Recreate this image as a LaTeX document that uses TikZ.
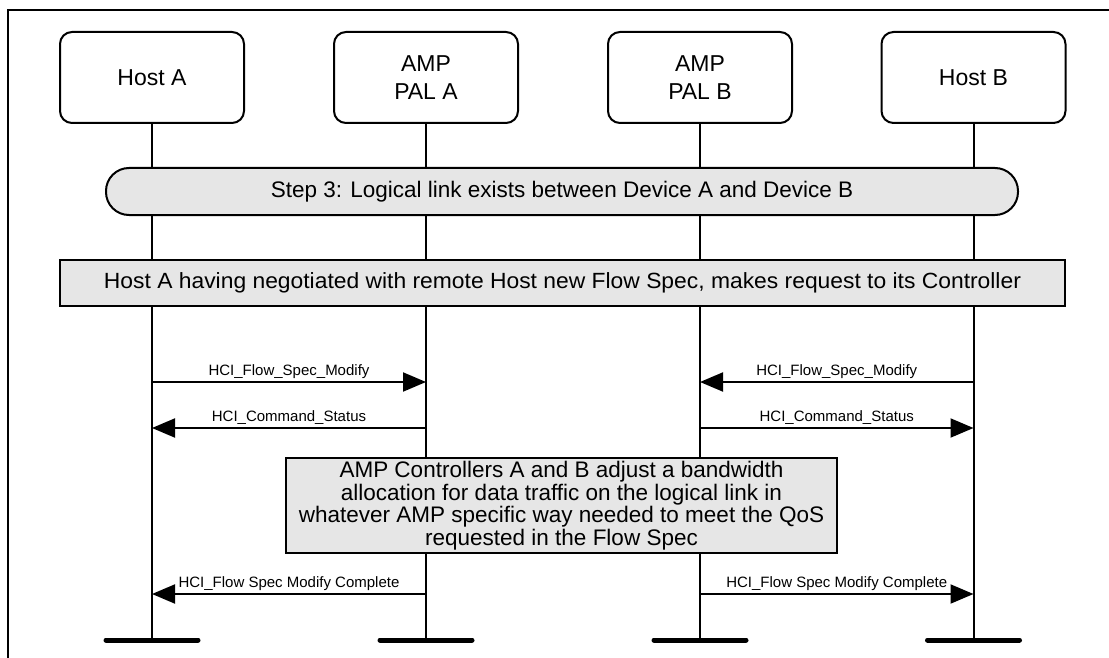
\documentclass[tikz,border=0pt]{standalone}
\usepackage{fontspec}
\setmainfont{Liberation Sans}
\usetikzlibrary{arrows.meta}
\definecolor{bannergray}{HTML}{E6E6E6}
\begin{document}
\begin{tikzpicture}[x=1pt,y=-1pt,
  actor/.style={draw,line width=2pt,rounded corners=12pt,minimum width=184pt,minimum height=91pt,
    align=center,inner sep=0pt,font=\fontsize{23}{28}\selectfont},
  lifeline/.style={line width=2pt},
  endbar/.style={line width=5pt,line cap=round},
  banner/.style={draw,line width=2pt,fill=bannergray,inner sep=0pt},
  msg/.style={line width=2pt,-{Triangle[length=23pt,width=19pt]}},
  msglabel/.style={anchor=base,inner sep=0pt,yshift=7pt,font=\fontsize{15}{18}\selectfont},
  frameline/.style={line width=2pt}]
\useasboundingbox (0,0) rectangle (1109,658);
% frame
\draw[frameline] (8,658) -- (8,10) -- (1109,10);
% actors
\node[actor] (hA) at (152,77.5) {Host A};
\node[actor] (pA) at (426,77.5) {AMP\\PAL A};
\node[actor] (pB) at (700,77.5) {AMP\\PAL B};
\node[actor] (hB) at (973.5,77.5) {Host B};
% lifeline ends
\coordinate (hAe) at (152,640);
\coordinate (pAe) at (426,640);
\coordinate (pBe) at (700,640);
\coordinate (hBe) at (973.5,640);
\draw[lifeline] (hA.south) -- (hAe);
\draw[lifeline] (pA.south) -- (pAe);
\draw[lifeline] (pB.south) -- (pBe);
\draw[lifeline] (hB.south) -- (hBe);
\draw[endbar] ([xshift=-46pt]hAe) -- ([xshift=46pt]hAe);
\draw[endbar] ([xshift=-46pt]pAe) -- ([xshift=46pt]pAe);
\draw[endbar] ([xshift=-46pt]pBe) -- ([xshift=46pt]pBe);
\draw[endbar] ([xshift=-46pt]hBe) -- ([xshift=46pt]hBe);
% banners
\node[banner,rounded corners=23pt,minimum width=912pt,minimum height=47pt,
  font=\fontsize{22.5}{27}\selectfont] (step) at (562,191.5)
  {Step 3: Logical link exists between Device A and Device B};
\node[banner,minimum width=1005pt,minimum height=46pt,
  font=\fontsize{22}{26}\selectfont] (nego) at (562.5,283)
  {\resizebox{917pt}{\height}{Host A having negotiated with remote Host new Flow Spec, makes request to its Controller}};
\node[banner,minimum width=551pt,minimum height=95pt,align=center,
  font=\fontsize{22.5}{22.5}\selectfont] (adj) at (561.5,505.5)
  {AMP Controllers A and B adjust a bandwidth\\allocation for data traffic on the logical link in\\whatever AMP specific way needed to meet the QoS\\requested in the Flow Spec};
% message end points
\coordinate (m1a) at (hA |- 0,382);
\coordinate (m1b) at (pA |- 0,382);
\coordinate (m1c) at (pB |- 0,382);
\coordinate (m1d) at (hB |- 0,382);
\coordinate (m2a) at (hA |- 0,428);
\coordinate (m2b) at (pA |- 0,428);
\coordinate (m2c) at (pB |- 0,428);
\coordinate (m2d) at (hB |- 0,428);
\coordinate (m3a) at (hA |- 0,594);
\coordinate (m3b) at (pA |- 0,594);
\coordinate (m3c) at (pB |- 0,594);
\coordinate (m3d) at (hB |- 0,594);
% messages
\draw[msg] (m1a) -- node[msglabel]{HCI\_Flow\_Spec\_Modify} (m1b);
\draw[msg] (m1d) -- node[msglabel]{HCI\_Flow\_Spec\_Modify} (m1c);
\draw[msg] (m2b) -- node[msglabel]{HCI\_Command\_Status} (m2a);
\draw[msg] (m2c) -- node[msglabel]{HCI\_Command\_Status} (m2d);
\draw[msg] (m3b) -- node[msglabel]{HCI\_Flow Spec Modify Complete} (m3a);
\draw[msg] (m3c) -- node[msglabel]{HCI\_Flow Spec Modify Complete} (m3d);
\end{tikzpicture}
\end{document}
